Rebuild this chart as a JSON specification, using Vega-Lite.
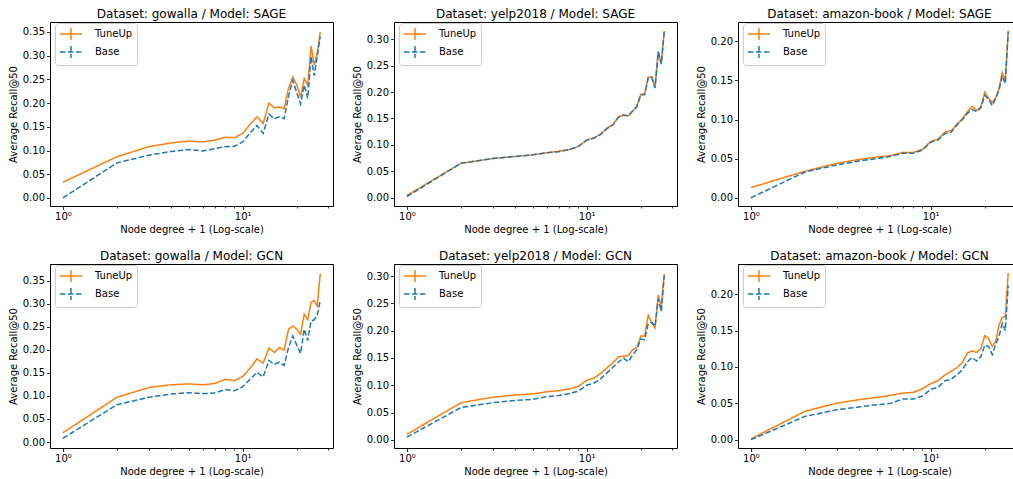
{
"$schema": "https://vega.github.io/schema/vega-lite/v6.json",
"background": "white",
"padding": {"left": 7, "top": 7, "right": 0, "bottom": 0},
"bounds": "flush",
"columns": 3,
"spacing": {"row": 58, "column": 61},
"datasets": {
"gs": [
{"s":"TuneUp","x":1,"y":0.033},{"s":"TuneUp","x":2,"y":0.087},{"s":"TuneUp","x":3,"y":0.108},{"s":"TuneUp","x":4,"y":0.116},{"s":"TuneUp","x":5,"y":0.120},{"s":"TuneUp","x":6,"y":0.118},{"s":"TuneUp","x":7,"y":0.122},{"s":"TuneUp","x":8,"y":0.128},{"s":"TuneUp","x":9,"y":0.127},{"s":"TuneUp","x":10,"y":0.136},{"s":"TuneUp","x":11,"y":0.155},{"s":"TuneUp","x":12,"y":0.171},{"s":"TuneUp","x":13,"y":0.157},{"s":"TuneUp","x":14,"y":0.200},{"s":"TuneUp","x":15,"y":0.190},{"s":"TuneUp","x":16,"y":0.192},{"s":"TuneUp","x":17,"y":0.188},{"s":"TuneUp","x":18,"y":0.232},{"s":"TuneUp","x":19,"y":0.255},{"s":"TuneUp","x":20,"y":0.238},{"s":"TuneUp","x":21,"y":0.212},{"s":"TuneUp","x":22,"y":0.252},{"s":"TuneUp","x":23,"y":0.237},{"s":"TuneUp","x":24,"y":0.320},{"s":"TuneUp","x":25,"y":0.280},{"s":"TuneUp","x":26,"y":0.305},{"s":"TuneUp","x":27,"y":0.350},
{"s":"Base","x":1,"y":0.000},{"s":"Base","x":2,"y":0.074},{"s":"Base","x":3,"y":0.090},{"s":"Base","x":4,"y":0.098},{"s":"Base","x":5,"y":0.102},{"s":"Base","x":6,"y":0.099},{"s":"Base","x":7,"y":0.104},{"s":"Base","x":8,"y":0.108},{"s":"Base","x":9,"y":0.109},{"s":"Base","x":10,"y":0.118},{"s":"Base","x":11,"y":0.137},{"s":"Base","x":12,"y":0.153},{"s":"Base","x":13,"y":0.136},{"s":"Base","x":14,"y":0.177},{"s":"Base","x":15,"y":0.167},{"s":"Base","x":16,"y":0.171},{"s":"Base","x":17,"y":0.167},{"s":"Base","x":18,"y":0.215},{"s":"Base","x":19,"y":0.248},{"s":"Base","x":20,"y":0.222},{"s":"Base","x":21,"y":0.198},{"s":"Base","x":22,"y":0.238},{"s":"Base","x":23,"y":0.210},{"s":"Base","x":24,"y":0.298},{"s":"Base","x":25,"y":0.258},{"s":"Base","x":26,"y":0.300},{"s":"Base","x":27,"y":0.340}
],
"ys": [
{"s":"TuneUp","x":1,"y":0.004},{"s":"TuneUp","x":2,"y":0.065},{"s":"TuneUp","x":3,"y":0.074},{"s":"TuneUp","x":4,"y":0.078},{"s":"TuneUp","x":5,"y":0.081},{"s":"TuneUp","x":6,"y":0.085},{"s":"TuneUp","x":7,"y":0.088},{"s":"TuneUp","x":8,"y":0.091},{"s":"TuneUp","x":9,"y":0.097},{"s":"TuneUp","x":10,"y":0.109},{"s":"TuneUp","x":11,"y":0.113},{"s":"TuneUp","x":12,"y":0.121},{"s":"TuneUp","x":13,"y":0.132},{"s":"TuneUp","x":14,"y":0.138},{"s":"TuneUp","x":15,"y":0.153},{"s":"TuneUp","x":16,"y":0.157},{"s":"TuneUp","x":17,"y":0.155},{"s":"TuneUp","x":18,"y":0.164},{"s":"TuneUp","x":19,"y":0.173},{"s":"TuneUp","x":20,"y":0.196},{"s":"TuneUp","x":21,"y":0.196},{"s":"TuneUp","x":22,"y":0.228},{"s":"TuneUp","x":23,"y":0.229},{"s":"TuneUp","x":24,"y":0.209},{"s":"TuneUp","x":25,"y":0.277},{"s":"TuneUp","x":26,"y":0.254},{"s":"TuneUp","x":27,"y":0.316},
{"s":"Base","x":1,"y":0.002},{"s":"Base","x":2,"y":0.065},{"s":"Base","x":3,"y":0.074},{"s":"Base","x":4,"y":0.078},{"s":"Base","x":5,"y":0.081},{"s":"Base","x":6,"y":0.085},{"s":"Base","x":7,"y":0.087},{"s":"Base","x":8,"y":0.091},{"s":"Base","x":9,"y":0.097},{"s":"Base","x":10,"y":0.109},{"s":"Base","x":11,"y":0.113},{"s":"Base","x":12,"y":0.120},{"s":"Base","x":13,"y":0.131},{"s":"Base","x":14,"y":0.138},{"s":"Base","x":15,"y":0.152},{"s":"Base","x":16,"y":0.156},{"s":"Base","x":17,"y":0.155},{"s":"Base","x":18,"y":0.164},{"s":"Base","x":19,"y":0.172},{"s":"Base","x":20,"y":0.195},{"s":"Base","x":21,"y":0.195},{"s":"Base","x":22,"y":0.227},{"s":"Base","x":23,"y":0.228},{"s":"Base","x":24,"y":0.208},{"s":"Base","x":25,"y":0.276},{"s":"Base","x":26,"y":0.253},{"s":"Base","x":27,"y":0.315}
],
"as": [
{"s":"TuneUp","x":1,"y":0.013},{"s":"TuneUp","x":2,"y":0.034},{"s":"TuneUp","x":3,"y":0.044},{"s":"TuneUp","x":4,"y":0.049},{"s":"TuneUp","x":5,"y":0.052},{"s":"TuneUp","x":6,"y":0.054},{"s":"TuneUp","x":7,"y":0.058},{"s":"TuneUp","x":8,"y":0.058},{"s":"TuneUp","x":9,"y":0.062},{"s":"TuneUp","x":10,"y":0.072},{"s":"TuneUp","x":11,"y":0.075},{"s":"TuneUp","x":12,"y":0.084},{"s":"TuneUp","x":13,"y":0.086},{"s":"TuneUp","x":14,"y":0.094},{"s":"TuneUp","x":15,"y":0.101},{"s":"TuneUp","x":16,"y":0.110},{"s":"TuneUp","x":17,"y":0.117},{"s":"TuneUp","x":18,"y":0.112},{"s":"TuneUp","x":19,"y":0.116},{"s":"TuneUp","x":20,"y":0.135},{"s":"TuneUp","x":21,"y":0.127},{"s":"TuneUp","x":22,"y":0.122},{"s":"TuneUp","x":23,"y":0.128},{"s":"TuneUp","x":24,"y":0.140},{"s":"TuneUp","x":25,"y":0.160},{"s":"TuneUp","x":26,"y":0.150},{"s":"TuneUp","x":27,"y":0.214},
{"s":"Base","x":1,"y":0.000},{"s":"Base","x":2,"y":0.033},{"s":"Base","x":3,"y":0.042},{"s":"Base","x":4,"y":0.047},{"s":"Base","x":5,"y":0.050},{"s":"Base","x":6,"y":0.053},{"s":"Base","x":7,"y":0.057},{"s":"Base","x":8,"y":0.057},{"s":"Base","x":9,"y":0.061},{"s":"Base","x":10,"y":0.071},{"s":"Base","x":11,"y":0.074},{"s":"Base","x":12,"y":0.082},{"s":"Base","x":13,"y":0.084},{"s":"Base","x":14,"y":0.093},{"s":"Base","x":15,"y":0.100},{"s":"Base","x":16,"y":0.108},{"s":"Base","x":17,"y":0.113},{"s":"Base","x":18,"y":0.110},{"s":"Base","x":19,"y":0.115},{"s":"Base","x":20,"y":0.131},{"s":"Base","x":21,"y":0.126},{"s":"Base","x":22,"y":0.118},{"s":"Base","x":23,"y":0.127},{"s":"Base","x":24,"y":0.138},{"s":"Base","x":25,"y":0.156},{"s":"Base","x":26,"y":0.146},{"s":"Base","x":27,"y":0.212}
],
"gg": [
{"s":"TuneUp","x":1,"y":0.020},{"s":"TuneUp","x":2,"y":0.097},{"s":"TuneUp","x":3,"y":0.118},{"s":"TuneUp","x":4,"y":0.124},{"s":"TuneUp","x":5,"y":0.126},{"s":"TuneUp","x":6,"y":0.124},{"s":"TuneUp","x":7,"y":0.127},{"s":"TuneUp","x":8,"y":0.136},{"s":"TuneUp","x":9,"y":0.133},{"s":"TuneUp","x":10,"y":0.142},{"s":"TuneUp","x":11,"y":0.160},{"s":"TuneUp","x":12,"y":0.180},{"s":"TuneUp","x":13,"y":0.171},{"s":"TuneUp","x":14,"y":0.204},{"s":"TuneUp","x":15,"y":0.194},{"s":"TuneUp","x":16,"y":0.205},{"s":"TuneUp","x":17,"y":0.199},{"s":"TuneUp","x":18,"y":0.245},{"s":"TuneUp","x":19,"y":0.251},{"s":"TuneUp","x":20,"y":0.245},{"s":"TuneUp","x":21,"y":0.234},{"s":"TuneUp","x":22,"y":0.277},{"s":"TuneUp","x":23,"y":0.265},{"s":"TuneUp","x":24,"y":0.303},{"s":"TuneUp","x":25,"y":0.307},{"s":"TuneUp","x":26,"y":0.295},{"s":"TuneUp","x":27,"y":0.365},
{"s":"Base","x":1,"y":0.008},{"s":"Base","x":2,"y":0.081},{"s":"Base","x":3,"y":0.097},{"s":"Base","x":4,"y":0.104},{"s":"Base","x":5,"y":0.107},{"s":"Base","x":6,"y":0.105},{"s":"Base","x":7,"y":0.106},{"s":"Base","x":8,"y":0.114},{"s":"Base","x":9,"y":0.111},{"s":"Base","x":10,"y":0.120},{"s":"Base","x":11,"y":0.136},{"s":"Base","x":12,"y":0.151},{"s":"Base","x":13,"y":0.141},{"s":"Base","x":14,"y":0.177},{"s":"Base","x":15,"y":0.168},{"s":"Base","x":16,"y":0.173},{"s":"Base","x":17,"y":0.166},{"s":"Base","x":18,"y":0.205},{"s":"Base","x":19,"y":0.230},{"s":"Base","x":20,"y":0.210},{"s":"Base","x":21,"y":0.192},{"s":"Base","x":22,"y":0.245},{"s":"Base","x":23,"y":0.220},{"s":"Base","x":24,"y":0.262},{"s":"Base","x":25,"y":0.265},{"s":"Base","x":26,"y":0.275},{"s":"Base","x":27,"y":0.307}
],
"yg": [
{"s":"TuneUp","x":1,"y":0.010},{"s":"TuneUp","x":2,"y":0.068},{"s":"TuneUp","x":3,"y":0.078},{"s":"TuneUp","x":4,"y":0.082},{"s":"TuneUp","x":5,"y":0.084},{"s":"TuneUp","x":6,"y":0.088},{"s":"TuneUp","x":7,"y":0.090},{"s":"TuneUp","x":8,"y":0.093},{"s":"TuneUp","x":9,"y":0.098},{"s":"TuneUp","x":10,"y":0.109},{"s":"TuneUp","x":11,"y":0.113},{"s":"TuneUp","x":12,"y":0.122},{"s":"TuneUp","x":13,"y":0.132},{"s":"TuneUp","x":14,"y":0.141},{"s":"TuneUp","x":15,"y":0.152},{"s":"TuneUp","x":16,"y":0.153},{"s":"TuneUp","x":17,"y":0.154},{"s":"TuneUp","x":18,"y":0.165},{"s":"TuneUp","x":19,"y":0.169},{"s":"TuneUp","x":20,"y":0.190},{"s":"TuneUp","x":21,"y":0.190},{"s":"TuneUp","x":22,"y":0.228},{"s":"TuneUp","x":23,"y":0.215},{"s":"TuneUp","x":24,"y":0.205},{"s":"TuneUp","x":25,"y":0.265},{"s":"TuneUp","x":26,"y":0.245},{"s":"TuneUp","x":27,"y":0.304},
{"s":"Base","x":1,"y":0.005},{"s":"Base","x":2,"y":0.059},{"s":"Base","x":3,"y":0.068},{"s":"Base","x":4,"y":0.072},{"s":"Base","x":5,"y":0.074},{"s":"Base","x":6,"y":0.079},{"s":"Base","x":7,"y":0.081},{"s":"Base","x":8,"y":0.085},{"s":"Base","x":9,"y":0.089},{"s":"Base","x":10,"y":0.100},{"s":"Base","x":11,"y":0.104},{"s":"Base","x":12,"y":0.112},{"s":"Base","x":13,"y":0.123},{"s":"Base","x":14,"y":0.133},{"s":"Base","x":15,"y":0.142},{"s":"Base","x":16,"y":0.150},{"s":"Base","x":17,"y":0.143},{"s":"Base","x":18,"y":0.155},{"s":"Base","x":19,"y":0.165},{"s":"Base","x":20,"y":0.185},{"s":"Base","x":21,"y":0.183},{"s":"Base","x":22,"y":0.213},{"s":"Base","x":23,"y":0.215},{"s":"Base","x":24,"y":0.208},{"s":"Base","x":25,"y":0.258},{"s":"Base","x":26,"y":0.235},{"s":"Base","x":27,"y":0.300}
],
"ag": [
{"s":"TuneUp","x":1,"y":0.001},{"s":"TuneUp","x":2,"y":0.039},{"s":"TuneUp","x":3,"y":0.050},{"s":"TuneUp","x":4,"y":0.055},{"s":"TuneUp","x":5,"y":0.058},{"s":"TuneUp","x":6,"y":0.061},{"s":"TuneUp","x":7,"y":0.064},{"s":"TuneUp","x":8,"y":0.065},{"s":"TuneUp","x":9,"y":0.070},{"s":"TuneUp","x":10,"y":0.077},{"s":"TuneUp","x":11,"y":0.081},{"s":"TuneUp","x":12,"y":0.089},{"s":"TuneUp","x":13,"y":0.094},{"s":"TuneUp","x":14,"y":0.099},{"s":"TuneUp","x":15,"y":0.106},{"s":"TuneUp","x":16,"y":0.119},{"s":"TuneUp","x":17,"y":0.122},{"s":"TuneUp","x":18,"y":0.120},{"s":"TuneUp","x":19,"y":0.125},{"s":"TuneUp","x":20,"y":0.143},{"s":"TuneUp","x":21,"y":0.139},{"s":"TuneUp","x":22,"y":0.128},{"s":"TuneUp","x":23,"y":0.135},{"s":"TuneUp","x":24,"y":0.158},{"s":"TuneUp","x":25,"y":0.168},{"s":"TuneUp","x":26,"y":0.169},{"s":"TuneUp","x":27,"y":0.229},
{"s":"Base","x":1,"y":0.000},{"s":"Base","x":2,"y":0.032},{"s":"Base","x":3,"y":0.041},{"s":"Base","x":4,"y":0.045},{"s":"Base","x":5,"y":0.048},{"s":"Base","x":6,"y":0.050},{"s":"Base","x":7,"y":0.056},{"s":"Base","x":8,"y":0.056},{"s":"Base","x":9,"y":0.060},{"s":"Base","x":10,"y":0.069},{"s":"Base","x":11,"y":0.072},{"s":"Base","x":12,"y":0.081},{"s":"Base","x":13,"y":0.083},{"s":"Base","x":14,"y":0.089},{"s":"Base","x":15,"y":0.096},{"s":"Base","x":16,"y":0.107},{"s":"Base","x":17,"y":0.113},{"s":"Base","x":18,"y":0.108},{"s":"Base","x":19,"y":0.114},{"s":"Base","x":20,"y":0.130},{"s":"Base","x":21,"y":0.128},{"s":"Base","x":22,"y":0.117},{"s":"Base","x":23,"y":0.131},{"s":"Base","x":24,"y":0.142},{"s":"Base","x":25,"y":0.160},{"s":"Base","x":26,"y":0.150},{"s":"Base","x":27,"y":0.212}
]
},
"concat": [
{
"title": "Dataset: gowalla / Model: SAGE",
"width": 283, "height": 184,
"data": {"name": "gs"},
"encoding": {
"x": {"field": "x", "type": "quantitative", "scale": {"type": "log", "domain": [0.848, 31.8], "nice": false}, "axis": {"title": "Node degree + 1 (Log-scale)", "values": [1,2,3,4,5,6,7,8,9,10,20,30], "labelExpr": "datum.value == 1 ? '10⁰' : datum.value == 10 ? '10¹' : ''", "tickSize": {"condition": {"test": "datum.value == 1 || datum.value == 10", "value": 3.5}, "value": 2}}},
"y": {"field": "y", "type": "quantitative", "scale": {"domain": [-0.017, 0.371], "nice": false, "zero": false}, "axis": {"title": "Average Recall@50", "values": [0,0.05,0.1,0.15,0.2,0.25,0.3,0.35], "format": ".2f"}},
"color": {"field": "s", "type": "nominal", "scale": {"domain": ["TuneUp","Base"], "range": ["#ff7f0e","#1f77b4"]}, "legend": {"title": null}},
"strokeDash": {"field": "s", "type": "nominal", "scale": {"domain": ["TuneUp","Base"], "range": [[1,0],[5.5,2.4]]}, "legend": {"title": null}}
},
"layer": [
{"transform": [{"filter": "datum.s == 'TuneUp'"}], "mark": {"type": "line", "strokeWidth": 1.5}},
{"transform": [{"filter": "datum.s == 'Base'"}], "mark": {"type": "line", "strokeWidth": 1.5}}
]
},
{
"title": "Dataset: yelp2018 / Model: SAGE",
"width": 283, "height": 184,
"data": {"name": "ys"},
"encoding": {
"x": {"field": "x", "type": "quantitative", "scale": {"type": "log", "domain": [0.848, 31.8], "nice": false}, "axis": {"title": "Node degree + 1 (Log-scale)", "values": [1,2,3,4,5,6,7,8,9,10,20,30], "labelExpr": "datum.value == 1 ? '10⁰' : datum.value == 10 ? '10¹' : ''", "tickSize": {"condition": {"test": "datum.value == 1 || datum.value == 10", "value": 3.5}, "value": 2}}},
"y": {"field": "y", "type": "quantitative", "scale": {"domain": [-0.016, 0.333], "nice": false, "zero": false}, "axis": {"title": "Average Recall@50", "values": [0,0.05,0.1,0.15,0.2,0.25,0.3], "format": ".2f"}},
"color": {"field": "s", "type": "nominal", "scale": {"domain": ["TuneUp","Base"], "range": ["#ff7f0e","#1f77b4"]}, "legend": {"title": null}},
"strokeDash": {"field": "s", "type": "nominal", "scale": {"domain": ["TuneUp","Base"], "range": [[1,0],[5.5,2.4]]}, "legend": {"title": null}}
},
"layer": [
{"transform": [{"filter": "datum.s == 'TuneUp'"}], "mark": {"type": "line", "strokeWidth": 1.5}},
{"transform": [{"filter": "datum.s == 'Base'"}], "mark": {"type": "line", "strokeWidth": 1.5}}
]
},
{
"title": "Dataset: amazon-book / Model: SAGE",
"width": 283, "height": 184,
"data": {"name": "as"},
"encoding": {
"x": {"field": "x", "type": "quantitative", "scale": {"type": "log", "domain": [0.848, 31.8], "nice": false}, "axis": {"title": "Node degree + 1 (Log-scale)", "values": [1,2,3,4,5,6,7,8,9,10,20,30], "labelExpr": "datum.value == 1 ? '10⁰' : datum.value == 10 ? '10¹' : ''", "tickSize": {"condition": {"test": "datum.value == 1 || datum.value == 10", "value": 3.5}, "value": 2}}},
"y": {"field": "y", "type": "quantitative", "scale": {"domain": [-0.0105, 0.2248], "nice": false, "zero": false}, "axis": {"title": "Average Recall@50", "values": [0,0.05,0.1,0.15,0.2], "format": ".2f"}},
"color": {"field": "s", "type": "nominal", "scale": {"domain": ["TuneUp","Base"], "range": ["#ff7f0e","#1f77b4"]}, "legend": {"title": null}},
"strokeDash": {"field": "s", "type": "nominal", "scale": {"domain": ["TuneUp","Base"], "range": [[1,0],[5.5,2.4]]}, "legend": {"title": null}}
},
"layer": [
{"transform": [{"filter": "datum.s == 'TuneUp'"}], "mark": {"type": "line", "strokeWidth": 1.5}},
{"transform": [{"filter": "datum.s == 'Base'"}], "mark": {"type": "line", "strokeWidth": 1.5}}
]
},
{
"title": "Dataset: gowalla / Model: GCN",
"width": 283, "height": 184,
"data": {"name": "gg"},
"encoding": {
"x": {"field": "x", "type": "quantitative", "scale": {"type": "log", "domain": [0.848, 31.8], "nice": false}, "axis": {"title": "Node degree + 1 (Log-scale)", "values": [1,2,3,4,5,6,7,8,9,10,20,30], "labelExpr": "datum.value == 1 ? '10⁰' : datum.value == 10 ? '10¹' : ''", "tickSize": {"condition": {"test": "datum.value == 1 || datum.value == 10", "value": 3.5}, "value": 2}}},
"y": {"field": "y", "type": "quantitative", "scale": {"domain": [-0.013, 0.386], "nice": false, "zero": false}, "axis": {"title": "Average Recall@50", "values": [0,0.05,0.1,0.15,0.2,0.25,0.3,0.35], "format": ".2f"}},
"color": {"field": "s", "type": "nominal", "scale": {"domain": ["TuneUp","Base"], "range": ["#ff7f0e","#1f77b4"]}, "legend": {"title": null}},
"strokeDash": {"field": "s", "type": "nominal", "scale": {"domain": ["TuneUp","Base"], "range": [[1,0],[5.5,2.4]]}, "legend": {"title": null}}
},
"layer": [
{"transform": [{"filter": "datum.s == 'TuneUp'"}], "mark": {"type": "line", "strokeWidth": 1.5}},
{"transform": [{"filter": "datum.s == 'Base'"}], "mark": {"type": "line", "strokeWidth": 1.5}}
]
},
{
"title": "Dataset: yelp2018 / Model: GCN",
"width": 283, "height": 184,
"data": {"name": "yg"},
"encoding": {
"x": {"field": "x", "type": "quantitative", "scale": {"type": "log", "domain": [0.848, 31.8], "nice": false}, "axis": {"title": "Node degree + 1 (Log-scale)", "values": [1,2,3,4,5,6,7,8,9,10,20,30], "labelExpr": "datum.value == 1 ? '10⁰' : datum.value == 10 ? '10¹' : ''", "tickSize": {"condition": {"test": "datum.value == 1 || datum.value == 10", "value": 3.5}, "value": 2}}},
"y": {"field": "y", "type": "quantitative", "scale": {"domain": [-0.015, 0.322], "nice": false, "zero": false}, "axis": {"title": "Average Recall@50", "values": [0,0.05,0.1,0.15,0.2,0.25,0.3], "format": ".2f"}},
"color": {"field": "s", "type": "nominal", "scale": {"domain": ["TuneUp","Base"], "range": ["#ff7f0e","#1f77b4"]}, "legend": {"title": null}},
"strokeDash": {"field": "s", "type": "nominal", "scale": {"domain": ["TuneUp","Base"], "range": [[1,0],[5.5,2.4]]}, "legend": {"title": null}}
},
"layer": [
{"transform": [{"filter": "datum.s == 'TuneUp'"}], "mark": {"type": "line", "strokeWidth": 1.5}},
{"transform": [{"filter": "datum.s == 'Base'"}], "mark": {"type": "line", "strokeWidth": 1.5}}
]
},
{
"title": "Dataset: amazon-book / Model: GCN",
"width": 283, "height": 184,
"data": {"name": "ag"},
"encoding": {
"x": {"field": "x", "type": "quantitative", "scale": {"type": "log", "domain": [0.848, 31.8], "nice": false}, "axis": {"title": "Node degree + 1 (Log-scale)", "values": [1,2,3,4,5,6,7,8,9,10,20,30], "labelExpr": "datum.value == 1 ? '10⁰' : datum.value == 10 ? '10¹' : ''", "tickSize": {"condition": {"test": "datum.value == 1 || datum.value == 10", "value": 3.5}, "value": 2}}},
"y": {"field": "y", "type": "quantitative", "scale": {"domain": [-0.0115, 0.2415], "nice": false, "zero": false}, "axis": {"title": "Average Recall@50", "values": [0,0.05,0.1,0.15,0.2], "format": ".2f"}},
"color": {"field": "s", "type": "nominal", "scale": {"domain": ["TuneUp","Base"], "range": ["#ff7f0e","#1f77b4"]}, "legend": {"title": null}},
"strokeDash": {"field": "s", "type": "nominal", "scale": {"domain": ["TuneUp","Base"], "range": [[1,0],[5.5,2.4]]}, "legend": {"title": null}}
},
"layer": [
{"transform": [{"filter": "datum.s == 'TuneUp'"}], "mark": {"type": "line", "strokeWidth": 1.5}},
{"transform": [{"filter": "datum.s == 'Base'"}], "mark": {"type": "line", "strokeWidth": 1.5}}
]
}
],
"resolve": {
"scale": {"color": "independent", "strokeDash": "independent"},
"legend": {"color": "independent", "strokeDash": "independent"}
},
"config": {
"font": "DejaVu Sans",
"view": {"stroke": "black", "strokeWidth": 1},
"title": {"font": "DejaVu Sans", "fontSize": 12, "fontWeight": "normal", "color": "black", "offset": 1, "anchor": "middle", "frame": "group"},
"axis": {"domain": false, "grid": false, "tickColor": "black", "tickWidth": 0.8, "tickSize": 3.5, "labelColor": "black", "labelFont": "DejaVu Sans", "labelFontSize": 10, "labelPadding": 2, "labelFlush": false, "labelOverlap": false, "titleFont": "DejaVu Sans", "titleFontSize": 10, "titleFontWeight": "normal", "titleColor": "black"},
"axisY": {"titlePadding": 4},
"axisX": {"titlePadding": 3, "labelPadding": 2},
"legend": {"orient": "none", "legendX": 5, "legendY": 1, "padding": 4, "fillColor": "rgba(255,255,255,0.8)", "strokeColor": "#cccccc", "cornerRadius": 3, "labelFont": "DejaVu Sans", "labelFontSize": 10, "labelColor": "black", "labelOffset": 17, "symbolOffset": 5, "rowPadding": 0, "symbolType": "M-1.833,0H1.833M0,-1V1", "symbolSize": 144, "symbolStrokeWidth": 1.5, "symbolFillColor": "transparent"}
}
}
